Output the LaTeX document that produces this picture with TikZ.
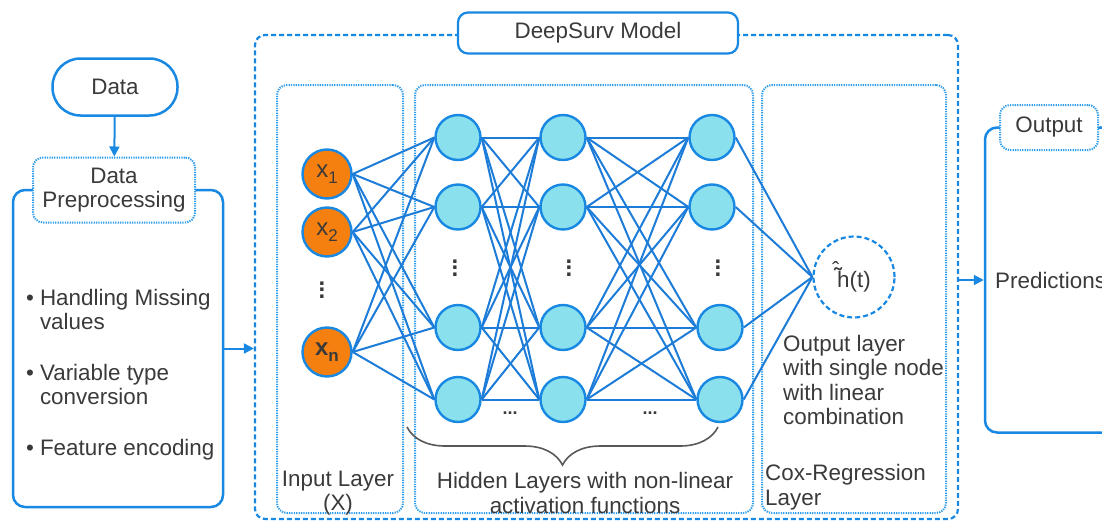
\documentclass[tikz,border=0pt]{standalone}
\usepackage{fontspec}
\setmainfont{Liberation Sans}
\usetikzlibrary{positioning,arrows.meta,decorations.pathreplacing}

\definecolor{dsblue}{RGB}{24,136,226}
\definecolor{dsdot}{RGB}{48,158,236}
\definecolor{dsedge}{RGB}{28,124,216}
\definecolor{dscyan}{RGB}{138,224,236}
\definecolor{dsorange}{RGB}{245,128,16}
\definecolor{dstext}{RGB}{58,58,58}

% variable with a dropped index
\newcommand{\xsub}[2]{{\fontsize{24}{24}\selectfont #1}\raisebox{-6pt}{\fontsize{17}{17}\selectfont #2}}
% vertical ellipsis in the layers
\newcommand{\vdotz}{\vbox{\fontsize{24}{24}\selectfont\bfseries
    \baselineskip=6.5pt\lineskiplimit=0pt\hbox{.}\hbox{.}\hbox{.}}}
% h with tilde and hat stacked above
\newcommand{\hazh}{%
    \makebox[0pt][l]{\hspace{-3pt}\raisebox{4pt}{\fontsize{22}{22}\selectfont\bfseries\char"02DC}}%
    \makebox[0pt][l]{\hspace{-5pt}\raisebox{10pt}{\fontsize{22}{22}\selectfont\char"02C6}}%
    h}

\tikzset{
    panel/.style={draw=dsblue, line width=2.5pt, rounded corners=12pt},
    pill/.style={draw=dsblue, line width=2.5pt, rounded corners=28pt, fill=white, align=center},
    dotbox/.style={draw=dsdot, line width=2pt, dash pattern=on 1.3pt off 1.1pt,
        rounded corners=10pt, align=center},
    modelbox/.style={draw=dsblue, line width=2.2pt, dash pattern=on 5pt off 3pt, rounded corners=10pt},
    titlebox/.style={draw=dsblue, line width=2.2pt, rounded corners=10pt, fill=white},
    inneuron/.style={circle, draw=dsblue, line width=2.4pt, fill=dsorange,
        minimum size=49pt, inner sep=0pt},
    neuron/.style={circle, draw=dsblue, line width=2.4pt, fill=dscyan,
        minimum size=45pt, inner sep=0pt},
    caption/.style={inner sep=0pt, align=left},
    link/.style={draw=dsedge, line width=2pt},
    flow/.style={-{Triangle[length=10pt,width=10pt]}, draw=dsblue, line width=2pt},
}

\begin{document}
\begin{tikzpicture}[x=1pt, y=-1pt, font=\fontsize{22.4}{24.5}\selectfont, text=dstext]
\useasboundingbox (0,0) rectangle (1102,522);

% ============ Preprocessing ============

\node[panel, minimum width=210pt, minimum height=317pt] (prepbox) at (118,348.5) {};
\node[pill, minimum width=125pt, minimum height=57pt] (data) at (115,87) {Data};
\node[dotbox, fill=white, minimum width=162pt, minimum height=65pt] (prep) at (114,190)
    {Data\\Preprocessing};
\node[caption, anchor=base west] (steps) at (26,305) {%
    \begin{tabular}[t]{@{}l@{\hspace{6pt}}l@{}}
    \textbullet & Handling Missing\\ & values\\[26pt]
    \textbullet & Variable type\\ & conversion\\[26pt]
    \textbullet & Feature encoding
    \end{tabular}};

% ============ DeepSurv ============

\node[modelbox, minimum width=703pt, minimum height=484pt] (model) at (606.5,277) {};
\node[titlebox, minimum width=280pt, minimum height=41pt] (title) at (598,33) {DeepSurv Model};

\node[dotbox, minimum width=126pt, minimum height=428pt] (inbox) at (340,299) {};
\node[dotbox, minimum width=338pt, minimum height=428pt] (hidbox) at (584,299) {};
\node[dotbox, minimum width=184pt, minimum height=428pt] (coxbox) at (854,299) {};

\node[caption, align=center] (inlabel) at (338,493) {Input Layer\\(X)};
\node[caption, align=center] (hidlabel) at (585,493)
    {Hidden Layers with non-linear\\activation functions};
\node[caption, anchor=west] (coxlabel) at (765,487) {Cox-Regression\\Layer};
\node[caption, anchor=west] (outlabel) at (783,380)
    {Output layer\\with single node\\with linear\\combination};

% input layer
\node[inneuron] (x1) at (327,174) {\xsub{x}{1}};
\node[inneuron] (x2) at (327,232) {\xsub{x}{2}};
\node[inneuron] (xn) at (327,352) {\textbf{\xsub{x}{n}}};
\node (idots) at (322,290) {\vdotz};

% hidden layers
\node[neuron] (a1) at (458,137.5) {};
\node[neuron] (a2) at (458,207) {};
\node[neuron] (a3) at (458,327.5) {};
\node[neuron] (a4) at (458,399.5) {};
\node[neuron] (b1) at (563,137.5) {};
\node[neuron] (b2) at (563,207) {};
\node[neuron] (b3) at (563,327.5) {};
\node[neuron] (b4) at (563,399.5) {};
\node[neuron] (c1) at (712,137.5) {};
\node[neuron] (c2) at (712,207) {};
\node[neuron] (c3) at (720,327.5) {};
\node[neuron] (c4) at (720,399.5) {};
\node (adots) at (455,268) {\vdotz};
\node (bdots) at (569,268) {\vdotz};
\node (cdots) at (718,268) {\vdotz};
\node[font=\fontsize{18}{18}\selectfont\bfseries] (abdots) at (510,413) {...};
\node[font=\fontsize{18}{18}\selectfont\bfseries] (bcdots) at (650,413) {...};

% output node
\node[circle, modelbox, minimum size=81pt, inner sep=0pt] (haz) at (854,277) {\hazh(t)};

% ============ Connections ============

\foreach \i in {x1,x2,xn}
    \foreach \j in {a1,a2,a3,a4}
        \draw[link] (\i.east) -- (\j.west);
\foreach \i in {1,...,4}
    \foreach \j in {1,...,4} {
        \draw[link] (a\i.east) -- (b\j.west);
        \draw[link] (b\i.east) -- (c\j.west);
    }
\foreach \i in {1,...,4}
    \draw[link] (c\i.east) -- (haz.west);

\coordinate (braceR) at (718,427);
\coordinate (braceL) at (407,427);
\draw[decorate, decoration={brace, amplitude=38pt}, draw=dstext!85, line width=1.6pt]
    (braceR) -- (braceL);

% ============ Output ============

\node[panel, minimum width=150pt, minimum height=305pt] (outbox) at (1060,280) {};
\node[dotbox, fill=white, minimum width=98pt, minimum height=45pt] (outtag) at (1049,127.5) {Output};
\node[caption, anchor=west] (pred) at (995,280) {Predictions};

% ============ Arrows ============

\draw[flow] (data) -- (prep);
\draw[flow] (prepbox.east) -- (prepbox.east -| model.west);
\draw[flow] (model.east |- outbox.west) -- (outbox.west);

\end{tikzpicture}
\end{document}
